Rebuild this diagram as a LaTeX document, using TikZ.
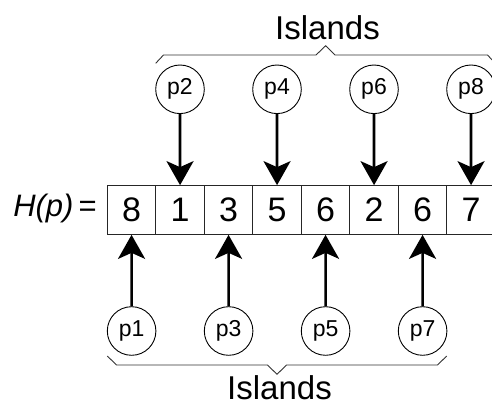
\documentclass[tikz,border=0pt]{standalone}
\usepackage{fontspec}
\setmainfont{Liberation Sans}
\usetikzlibrary{arrows.meta}
\begin{document}
\begin{tikzpicture}[x=1pt,y=-1pt,
  cell/.style={draw=black!85,line width=1.1pt,minimum width=48.5pt,minimum height=48.6pt,inner sep=0pt,font=\fontsize{34}{34}\selectfont,anchor=center},
  pnode/.style={circle,draw,line width=0.9pt,minimum size=48.6pt,inner sep=0pt,font=\fontsize{23}{23}\selectfont},
  arr/.style={line width=2.6pt,-{Stealth[length=24pt,width=27pt,inset=6pt]}},
  brace/.style={line width=0.9pt,draw=black!80},
  lab/.style={font=\fontsize{33}{33}\selectfont,inner sep=0pt}]
\useasboundingbox (0,0) rectangle (492,406);
% cells
\foreach \v [count=\i from 0] in {8,1,3,5,6,2,6,7} {
  \node[cell] (c\i) at ({131.55+48.5*\i},210) {\v};
}
\node[lab,anchor=east,font=\fontsize{31}{31}\selectfont] (H) at (97,208) {\textit{H(p)}\,=};
% top circles
\node[pnode] (p2) at (180,89.3) {p2};
\node[pnode] (p4) at (277,89.3) {p4};
\node[pnode] (p6) at (374,89.3) {p6};
\node[pnode] (p8) at (471,89.3) {p8};
% bottom circles
\node[pnode] (p1) at (131.6,331) {p1};
\node[pnode] (p3) at (228.6,331) {p3};
\node[pnode] (p5) at (325.6,331) {p5};
\node[pnode] (p7) at (422.6,331) {p7};
% arrows
\draw[arr] (p2) -- (c1.north);
\draw[arr] (p4) -- (c3.north);
\draw[arr] (p6) -- (c5.north);
\draw[arr] (p8) -- (c7.north);
\draw[arr] (p1) -- (c0.south);
\draw[arr] (p3) -- (c2.south);
\draw[arr] (p5) -- (c4.south);
\draw[arr] (p7) -- (c6.south);
% braces
\coordinate (tb1) at (155.7,63.3);
\coordinate (tb2) at (163.5,55);
\coordinate (tb3) at (316,55);
\coordinate (tb4) at (325.7,45.7);
\coordinate (tb5) at (335,55);
\coordinate (tb6) at (487.5,55);
\coordinate (tb7) at (495.3,63.3);
\draw[brace] (tb1) -- (tb2) -- (tb3) -- (tb4) -- (tb5) -- (tb6) -- (tb7);
\coordinate (bb1) at (107.3,356);
\coordinate (bb2) at (116.5,365);
\coordinate (bb3) at (267.5,365);
\coordinate (bb4) at (277,374.3);
\coordinate (bb5) at (286.5,365);
\coordinate (bb6) at (437.5,365);
\coordinate (bb7) at (446.7,356);
\draw[brace] (bb1) -- (bb2) -- (bb3) -- (bb4) -- (bb5) -- (bb6) -- (bb7);
\node[lab,anchor=base] (it) at (327.5,40) {Islands};
\node[lab,anchor=base] (ib) at (279.5,399) {Islands};
\end{tikzpicture}
\end{document}
